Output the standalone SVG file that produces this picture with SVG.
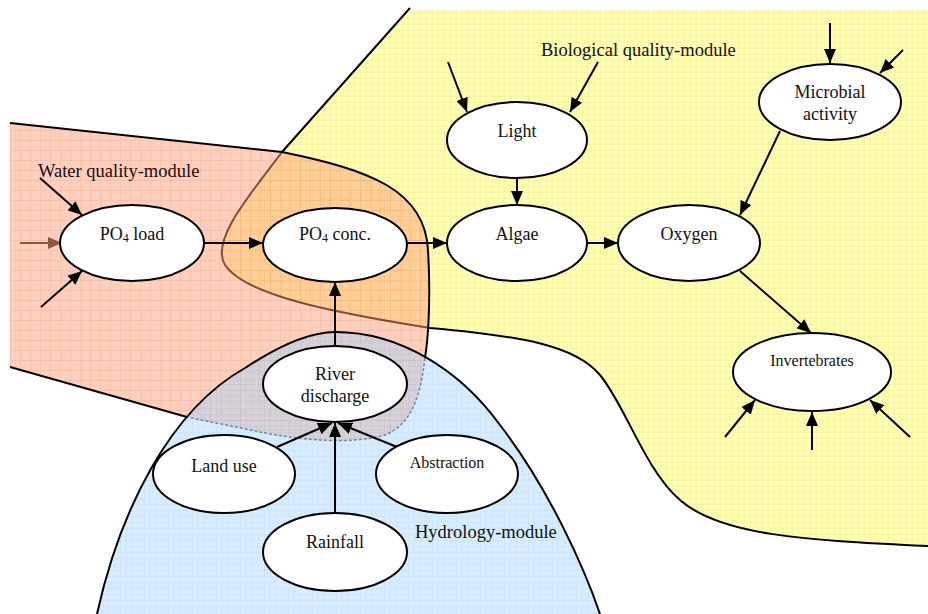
<svg xmlns="http://www.w3.org/2000/svg" width="928" height="614" viewBox="0 0 928 614">
<defs>
<style>
.node ellipse{fill:#fff;stroke:#000;stroke-width:2}
.t{font-family:"Liberation Serif","Times New Roman",serif;font-size:18px;fill:#111;text-anchor:middle}
.sm{font-size:16px}
.lbl{font-family:"Liberation Serif","Times New Roman",serif;font-size:18.5px;fill:#111}
.edge{stroke:#000;stroke-width:2;fill:none;marker-end:url(#ah)}
.bd{stroke:#000;stroke-width:2;fill:none}
</style>
<marker id="ah" viewBox="0 0 14 12" refX="14" refY="6" markerWidth="14" markerHeight="12" markerUnits="userSpaceOnUse" orient="auto">
<path d="M0,0 L14,6 L0,12 Z" fill="#000"/>
</marker>
<marker id="ahb" viewBox="0 0 14 12" refX="14" refY="6" markerWidth="14" markerHeight="12" markerUnits="userSpaceOnUse" orient="auto">
<path d="M0,0 L14,6 L0,12 Z" fill="#8a5a40"/>
</marker>
<pattern id="gy" width="6" height="6" patternUnits="userSpaceOnUse">
<rect width="6" height="6" fill="#FFFFB4"/>
<path d="M0,0.5H6M0.5,0V6" stroke="#F8F4A4" stroke-width="1"/>
</pattern>
<pattern id="gr" width="10" height="10" patternUnits="userSpaceOnUse">
<rect width="10" height="10" fill="#FFA080"/>
<path d="M0,0.5H10M0.5,0V10" stroke="#FF8050" stroke-width="1"/>
</pattern>
<pattern id="gb" width="6" height="6" patternUnits="userSpaceOnUse">
<rect width="6" height="6" fill="#A0D4FF"/>
<path d="M0,0.5H6M0.5,0V6" stroke="#88C4F4" stroke-width="1"/>
</pattern>
</defs>
<rect width="928" height="614" fill="#fff"/>
<g id="regions">
<path id="bio-region" d="M410,10 L282,152 C250,195 210,240 225,265 C245,295 330,312 430,328 C520,336 575,345 600,375 C625,405 645,470 680,500 C720,535 800,540 928,546 L928,10 Z" fill="url(#gy)"/>
<path d="M410,8 L282,152 C250,195 210,240 225,265 C245,295 330,312 430,328 C520,336 575,345 600,375 C625,405 645,470 680,500 C720,535 800,540 928,546" class="bd"/>
<path id="wq-region" d="M10,123 L282,152 C370,170 425,190 428,250 C431,300 428,340 425,358 C420,400 410,425 385,435 C350,445 300,440 260,432 L187,417 L10,367 Z" fill="url(#gr)" opacity="0.5"/>
<path d="M10,123 L282,152 C370,170 425,190 428,250 C431,300 428,340 425,358 M187,417 L10,367" class="bd"/>
<path d="M425,358 C420,400 410,425 385,435 C350,445 300,440 260,432 L187,417" fill="none" stroke="#555" stroke-width="1.5" stroke-dasharray="3,2"/>
<path id="hyd-region" d="M97,614 C120,510 170,410 245,368 C280,345 310,332 335,332 C400,332 460,370 500,425 C550,490 585,570 600,614 Z" fill="url(#gb)" opacity="0.42"/>
<path d="M97,614 C120,510 170,410 245,368 C280,345 310,332 335,332 C400,332 460,370 500,425 C550,490 585,570 600,614" class="bd"/>
</g>
<g id="labels">
<text class="lbl" x="38" y="177">Water quality-module</text>
<text class="lbl" x="541" y="56">Biological quality-module</text>
<text class="lbl" x="415" y="538">Hydrology-module</text>
</g>
<g id="connectors">
<path d="M20,243 L62,243" stroke="#8a5a40" stroke-width="2" fill="none" marker-end="url(#ahb)"/>
<path class="edge" d="M40,178 L82,215"/>
<path class="edge" d="M41,307 L82,271"/>
<path class="edge" d="M204,243 L263,243"/>
<path class="edge" d="M407,243 L447,243"/>
<path class="edge" d="M517,178 L517,205"/>
<path class="edge" d="M588,243 L618,243"/>
<path class="edge" d="M780,131 L740,215"/>
<path class="edge" d="M740,271 L811,333"/>
<path class="edge" d="M448,62 L467,112"/>
<path class="edge" d="M598,62 L570,112"/>
<path class="edge" d="M830,23 L830,63"/>
<path class="edge" d="M903,50 L880,73"/>
<path class="edge" d="M725,437 L755,400"/>
<path class="edge" d="M812,450 L812,412"/>
<path class="edge" d="M910,437 L870,400"/>
<path class="edge" d="M335,347 L335,282"/>
<path class="edge" d="M277,447 L332,423"/>
<path class="edge" d="M397,447 L338,423"/>
<path class="edge" d="M335,513 L335,423"/>
</g>
<g id="po4-load" class="node" font-family="Liberation Serif, serif"><ellipse cx="132" cy="243" rx="72" ry="38"/><text class="t" x="132" y="240">PO<tspan font-size="12" dy="2">4</tspan><tspan dy="-2"> load</tspan></text></g>
<g id="po4-conc" class="node" font-family="Liberation Serif, serif"><ellipse cx="335" cy="245" rx="72" ry="37"/><text class="t" x="335" y="240">PO<tspan font-size="12" dy="2">4</tspan><tspan dy="-2"> conc.</tspan></text></g>
<g id="light" class="node" font-family="Liberation Serif, serif"><ellipse cx="517" cy="140" rx="70" ry="38"/><text class="t" x="517" y="137">Light</text></g>
<g id="algae" class="node" font-family="Liberation Serif, serif"><ellipse cx="517" cy="243" rx="70" ry="38"/><text class="t" x="517" y="240">Algae</text></g>
<g id="oxygen" class="node" font-family="Liberation Serif, serif"><ellipse cx="689" cy="243" rx="71" ry="38"/><text class="t" x="689" y="240">Oxygen</text></g>
<g id="microbial" class="node" font-family="Liberation Serif, serif"><ellipse cx="830" cy="102" rx="71" ry="38"/><text class="t" x="830" y="98">Microbial</text><text class="t" x="830" y="120">activity</text></g>
<g id="invertebrates" class="node" font-family="Liberation Serif, serif"><ellipse cx="812" cy="372" rx="79" ry="39"/><text class="t sm" x="812" y="366">Invertebrates</text></g>
<g id="river" class="node" font-family="Liberation Serif, serif"><ellipse cx="335" cy="384" rx="72" ry="38"/><text class="t" x="335" y="380">River</text><text class="t" x="335" y="402">discharge</text></g>
<g id="landuse" class="node" font-family="Liberation Serif, serif"><ellipse cx="224" cy="474" rx="71" ry="39"/><text class="t" x="224" y="472">Land use</text></g>
<g id="abstraction" class="node" font-family="Liberation Serif, serif"><ellipse cx="447" cy="474" rx="71" ry="39"/><text class="t sm" x="447" y="468">Abstraction</text></g>
<g id="rainfall" class="node" font-family="Liberation Serif, serif"><ellipse cx="335" cy="552" rx="72" ry="39"/><text class="t" x="335" y="548">Rainfall</text></g>
</svg>
